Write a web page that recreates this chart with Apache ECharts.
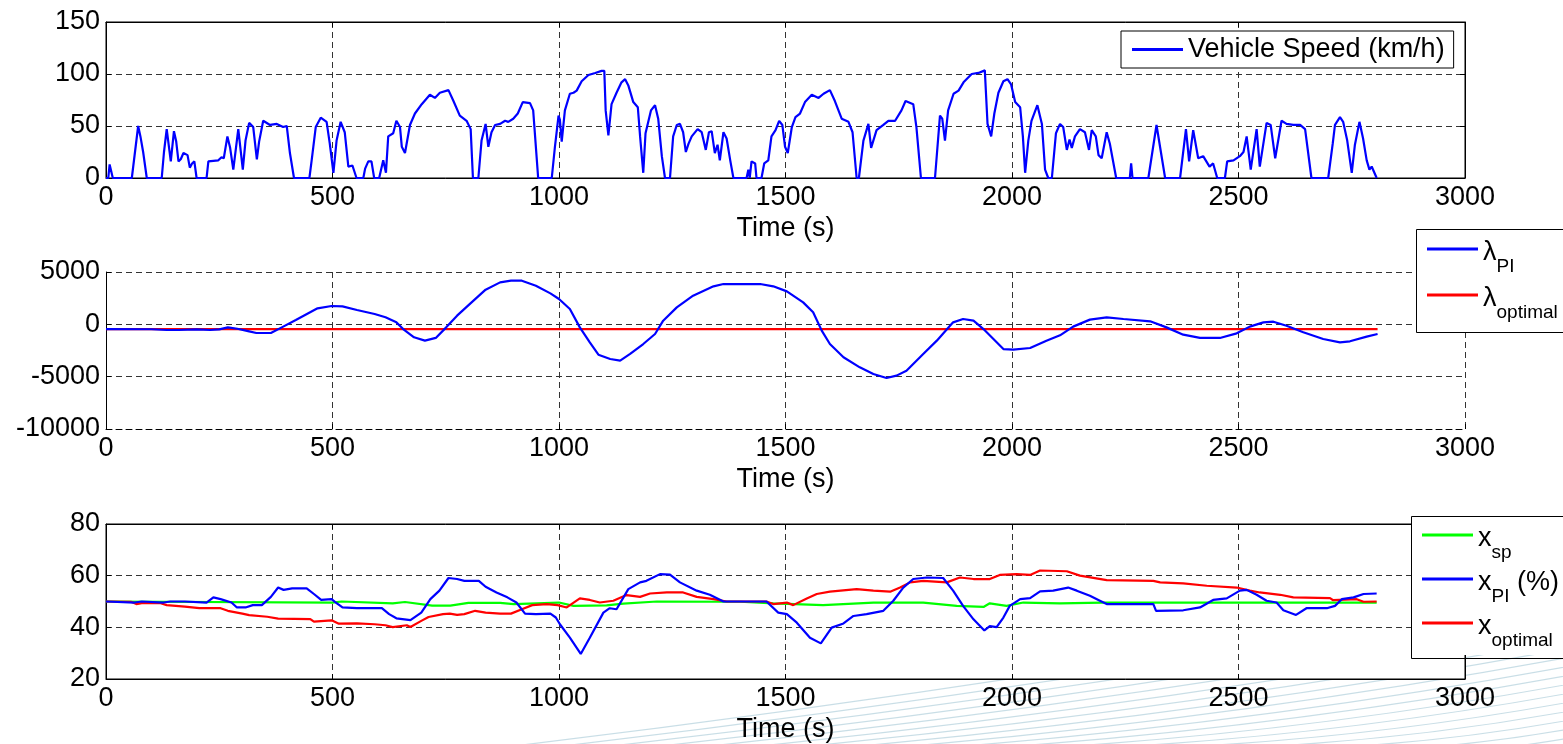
<!DOCTYPE html>
<html>
<head>
<meta charset="utf-8">
<script src="https://cdn.jsdelivr.net/npm/echarts@6/dist/echarts.min.js"></script>
<style>
html, body {margin: 0; padding: 0; background: #fff;}
#main {width: 1563px; height: 744px;}
</style>
</head>
<body>
<div id="main"></div>
<script>
// time axis, shared by the three panels
var timeRange = [0, 3000, 500];

// panel 1: vehicle speed (km/h), [time, value]
var speedRange = [0, 150, 50];
var speedData = [
    [0,0],[5,0],[8,13],[12,13],[15,0],[57,0],[64,25],[71,50],[76,40],[82,25],[90,0],
    [123,0],[128,25],[134,47],[143,16],[150,45],[155,35],[160,16],[165,18],[171,24],[180,22],
    [185,10],[190,14],[195,16],[200,0],[222,0],[226,16],[248,17],[255,20],[260,19],[268,40],
    [274,29],[281,8],[292,47],[302,8],[308,36],[316,53],[325,49],[333,18],[338,35],[347,55],
    [362,51],[377,52],[391,49],[399,50],[406,24],[415,0],[449,0],[454,17],[463,49],[474,58],
    [487,54],[494,33],[502,5],[509,36],[518,54],[527,44],[535,11],[544,12],[553,0],[568,0],
    [572,9],[579,16],[586,16],[592,0],[603,0],[612,17],[618,5],[623,40],[634,43],[641,55],
    [649,49],[653,30],[660,24],[671,51],[682,62],[697,71],[715,80],[726,77],[737,82],[756,84.5],
    [767,74],[781,60],[796,55],[805,47],[810,0],[822,0],[829,36],[838,52],[844,30],[851,44],
    [859,51],[870,52],[881,55],[888,54],[899,57],[909,62],[920,73],[936,72],[943,65],[954,0],
    [984,0],[991,30],[999,60],[1002,56],[1006,35],[1013,65],[1024,81],[1032,82],[1039,84],
    [1050,93],[1065,99],[1080,101],[1094,103],[1100,103],[1103,65],[1109,41],[1116,71],[1127,82],
    [1138,92],[1146,95],[1153,89],[1164,73],[1174,68],[1179,40],[1186,5],[1191,43],[1203,65],
    [1212,70],[1219,57],[1227,21],[1234,0],[1245,0],[1252,40],[1260,51],[1267,52],[1274,44],
    [1280,25],[1286,33],[1293,40],[1306,47],[1315,44],[1324,27],[1331,44],[1337,45],[1344,24],
    [1350,32],[1355,17],[1363,44],[1370,38],[1378,17],[1385,0],[1414,0],[1418,8],[1421,0],
    [1425,16],[1433,14],[1436,0],[1447,0],[1453,14],[1462,17],[1469,40],[1478,46],[1486,55],
    [1493,51],[1499,30],[1505,24],[1514,49],[1522,58.5],[1532,62],[1543,73],[1558,80],[1573,77],
    [1584,81],[1598,84.5],[1609,74],[1624,57],[1639,54],[1648,44],[1657,0],[1662,0],[1672,36],
    [1683,52],[1689,29],[1701,46],[1716,51],[1727,55],[1742,55],[1756,65],[1765,74],[1782,71],
    [1789,49],[1799,0],[1830,0],[1841,60],[1846,57],[1852,36],[1859,65],[1871,81],[1882,84],
    [1893,92],[1911,100],[1926,101],[1940,103.5],[1946,52],[1954,40],[1961,62],[1970,82],
    [1981,93],[1990,95],[1998,90],[2007,73],[2018,68],[2024,40],[2029,5],[2036,36],[2043,55],
    [2056,70],[2066,52],[2073,8],[2080,0],[2088,0],[2097,43],[2106,52],[2113,49],[2121,27],
    [2127,37],[2132,29],[2139,40],[2150,47],[2161,44],[2170,27],[2176,46],[2185,40],[2191,22],
    [2198,19],[2209,44],[2216,33],[2230,0],[2260,0],[2263,14],[2266,0],[2301,0],[2319,51],
    [2338,0],[2371,0],[2384,47],[2391,16],[2400,46],[2411,19],[2422,21],[2436,11],[2444,14],
    [2453,0],[2470,0],[2475,16],[2489,17],[2503,21],[2511,25],[2518,40],[2527,8],[2540,47],
    [2547,11],[2562,53],[2571,51],[2581,19],[2595,55],[2606,52],[2621,51],[2636,51],[2647,47],
    [2661,0],[2698,0],[2708,33],[2713,51],[2724,58.5],[2731,54],[2740,36],[2750,5],[2757,32],
    [2767,54],[2775,38],[2783,17],[2789,8],[2794,11],[2805,0]
];

// panel 2: co-state lambda
var lambdaRange = [-10000, 5000, 5000];
var lambdaPI = [
    [0,-450],[100,-470],[134,-540],[160,-540],[200,-480],[230,-540],[250,-480],[269,-290],
    [290,-420],[316,-670],[332,-830],[364,-830],[388,-290],[419,410],[467,1530],[498,1750],
    [522,1720],[554,1370],[593,990],[617,670],[641,190],[656,-450],[680,-1240],[704,-1560],
    [728,-1300],[751,-290],[775,830],[807,2100],[838,3310],[870,4010],[894,4170],[918,4170],
    [949,3690],[981,2960],[1000,2420],[1024,1470],[1046,-290],[1068,-1720],[1087,-2900],
    [1113,-3310],[1135,-3470],[1157,-2830],[1186,-1880],[1212,-920],[1230,350],[1260,1620],
    [1296,2740],[1341,3630],[1363,3850],[1444,3850],[1473,3630],[1503,3150],[1539,2100],
    [1561,1150],[1580,-600],[1598,-1880],[1628,-3150],[1664,-4110],[1694,-4750],[1723,-5130],
    [1745,-4900],[1767,-4430],[1804,-2830],[1834,-1560],[1870,190],[1892,510],[1915,350],
    [1937,-450],[1959,-1400],[1981,-2360],[2003,-2420],[2040,-2260],[2076,-1560],[2106,-1050],
    [2135,-220],[2172,450],[2209,670],[2246,510],[2305,290],[2341,-290],[2378,-990],[2415,-1300],
    [2459,-1300],[2496,-860],[2525,-220],[2555,190],[2577,250],[2606,-130],[2643,-760],
    [2687,-1400],[2724,-1720],[2746,-1620],[2783,-1180],[2807,-920]
];
var lambdaOptimal = [[0,-450],[2807,-450]];

// panel 3: state of charge (%)
var socRange = [20, 80, 20];
var xSp = [
    [0,50],[500,49.6],[520,50],[633,49.3],[660,49.8],[720,48.4],[760,48.4],[800,49.5],[870,49.5],
    [900,49],[1000,49.6],[1032,48.3],[1105,48.5],[1142,49.2],[1216,50],[1400,49.9],[1473,49.3],
    [1583,48.6],[1694,49.6],[1804,49.6],[1878,48.3],[1937,47.9],[1951,49.3],[1988,48.3],
    [2025,49.6],[2106,49.3],[2200,49.6],[2805,49.6]
];
var xPI = [
    [0,50],[63,49.6],[79,50],[127,49.6],[142,50],[174,50],[222,49.6],[237,51.6],[253,50.9],
    [277,49.6],[289,47.7],[308,47.7],[324,48.6],[344,48.6],[364,51.8],[380,55.4],[392,54.5],
    [411,55.1],[443,55.1],[459,52.9],[475,50.6],[498,50.9],[506,49.8],[522,47.7],[554,47.4],
    [609,47.4],[625,45.1],[641,43.5],[672,42.8],[696,45.7],[716,50.9],[736,54.2],[756,59.1],
    [775,58.7],[791,58],[823,58],[838,55.7],[862,53.5],[886,51.6],[906,49.6],[925,45.3],
    [949,45.1],[981,45.3],[993,43.8],[1002,41.2],[1024,36],[1048,29.7],[1068,36],[1098,45.7],
    [1112,47.4],[1127,47],[1153,54.8],[1179,57.4],[1193,58],[1223,60.6],[1245,60.4],[1267,57.4],
    [1304,54.2],[1333,52.6],[1363,50],[1458,50],[1484,45.7],[1503,45.1],[1525,41.8],[1554,36],
    [1578,33.8],[1602,39.9],[1628,41.5],[1650,44.4],[1679,45.1],[1716,46.4],[1738,50.3],
    [1760,55.4],[1782,58.7],[1812,59.3],[1848,59.1],[1870,54.2],[1892,48.3],[1915,43.1],
    [1939,38.8],[1951,40.5],[1966,40.1],[1981,43.8],[1995,48.3],[2018,50.9],[2040,51.3],
    [2062,53.9],[2091,54.2],[2124,55.4],[2143,54.2],[2172,52.2],[2194,50.3],[2209,49],
    [2312,49],[2318,46.4],[2378,46.6],[2415,47.7],[2444,50.6],[2474,51.2],[2503,54.2],
    [2518,54.5],[2540,52.6],[2562,50.3],[2584,49.6],[2599,46.6],[2627,44.8],[2650,47.4],
    [2695,47.4],[2713,48.3],[2728,50.9],[2754,51.6],[2776,52.9],[2805,53.1]
];
var xOptimal = [
    [0,50],[55,49.9],[67,49],[79,49.4],[119,49.4],[134,48.6],[174,48],[206,47.4],[253,47.4],
    [269,46.4],[301,45.3],[316,44.7],[356,44.1],[380,43.4],[451,43.2],[459,42.2],[498,42.7],
    [514,41.4],[554,41.5],[593,41.2],[617,40.8],[633,40.1],[664,40.8],[672,40.1],[696,42.5],
    [712,44],[744,45.1],[759,45.3],[775,44.8],[791,45.1],[815,46.4],[838,45.7],[870,45.3],
    [894,45.3],[918,47],[941,48.6],[973,49],[997,48.6],[1017,47.7],[1046,51.2],[1068,50.6],
    [1090,49.6],[1120,50.3],[1149,52.5],[1179,51.8],[1201,53.1],[1238,53.5],[1274,53.5],
    [1304,51.8],[1341,50.9],[1370,50],[1458,50],[1473,49],[1503,49.6],[1517,48.6],[1547,51.2],
    [1569,52.9],[1598,53.8],[1657,54.8],[1694,54.2],[1731,53.8],[1753,55.4],[1775,57.4],
    [1804,58],[1856,57.4],[1885,59.3],[1915,58.7],[1951,58.7],[1973,60.3],[2010,60.6],
    [2040,60.3],[2062,62],[2121,61.7],[2150,60],[2209,58.3],[2312,58],[2327,57.4],[2378,57],
    [2430,56.1],[2496,55.4],[2525,54.2],[2547,53.5],[2592,52.6],[2621,51.6],[2702,51.3],
    [2709,50.5],[2761,50.9],[2776,49.9],[2805,50]
];

var FONT = '"Liberation Sans", Arial, sans-serif';
var GRID_DASH = [6, 4];

// plot boxes, in pixels
var boxes = [
    {top: 22, height: 156},
    {top: 272, height: 157},
    {top: 524, height: 155}
];
var ranges = [speedRange, lambdaRange, socRange];

function labelStyle() {
    return {fontSize: 27, color: '#000', fontFamily: FONT};
}

function plainNumber(v) {
    return String(v);
}

function buildGrids() {
    return boxes.map(function (b, i) {
        return {
            left: 106, width: 1359, top: b.top, height: b.height,
            show: true, backgroundColor: '#fff',
            borderColor: '#000', borderWidth: i === 1 ? 0 : 1,
            outerBoundsMode: 'none', containLabel: false
        };
    });
}

function buildXAxes() {
    var list = [];
    boxes.forEach(function (b, i) {
        var lab = labelStyle();
        lab.margin = 6;
        lab.formatter = plainNumber;
        list.push({
            gridIndex: i, type: 'value', position: 'bottom',
            min: timeRange[0], max: timeRange[1], interval: timeRange[2],
            name: 'Time (s)', nameLocation: 'middle', nameGap: 37, nameMoveOverlap: false,
            nameTextStyle: labelStyle(),
            axisLine: {show: true, onZero: false, lineStyle: {color: '#000', width: 1, type: i === 1 ? GRID_DASH : 'solid'}},
            axisTick: {show: true, inside: true, length: 5, lineStyle: {color: '#000'}},
            axisLabel: lab,
            splitLine: {show: true, lineStyle: {color: '#333', width: 1, type: GRID_DASH}}
        });
    });
    // tick marks along the top edge of the boxed panels
    [0, 2].forEach(function (i) {
        list.push({
            gridIndex: i, type: 'value', position: 'top',
            min: timeRange[0], max: timeRange[1], interval: timeRange[2],
            axisLine: {show: true, onZero: false, lineStyle: {color: '#000'}},
            axisTick: {show: true, inside: true, length: 5, lineStyle: {color: '#000'}},
            axisLabel: {show: false}, splitLine: {show: false}
        });
    });
    return list;
}

function buildYAxes() {
    var list = [];
    ranges.forEach(function (r, i) {
        var lab = labelStyle();
        lab.margin = 6;
        lab.formatter = plainNumber;
        list.push({
            gridIndex: i, type: 'value', position: 'left',
            min: r[0], max: r[1], interval: r[2],
            axisLine: {show: true, onZero: false, lineStyle: {color: '#000', width: 1}},
            axisTick: {show: true, inside: true, length: 5, lineStyle: {color: '#000'}},
            axisLabel: lab,
            splitLine: {show: true, lineStyle: {color: '#333', width: 1, type: GRID_DASH}}
        });
    });
    [0, 2].forEach(function (i) {
        var r = ranges[i];
        list.push({
            gridIndex: i, type: 'value', position: 'right',
            min: r[0], max: r[1], interval: r[2],
            axisLine: {show: true, onZero: false, lineStyle: {color: '#000'}},
            axisTick: {show: true, inside: true, length: 5, lineStyle: {color: '#000'}},
            axisLabel: {show: false}, splitLine: {show: false}
        });
    });
    return list;
}

function lineSeries(name, grid, data, color) {
    return {
        name: name, type: 'line', xAxisIndex: grid, yAxisIndex: grid,
        data: data, color: color, symbol: 'none', showSymbol: false,
        lineStyle: {color: color, width: 2.2}, itemStyle: {color: color},
        animation: false, z: 3
    };
}

// rich text for the subscripted legend names
var legendRich = {
    m: {fontSize: 27, fontFamily: FONT, color: '#000', lineHeight: 30, padding: [5, 0, 0, 0], verticalAlign: 'top'},
    s: {fontSize: 19, fontFamily: FONT, color: '#000', lineHeight: 20, padding: [23, 0, 0, 0], verticalAlign: 'top'}
};
var legendLabels = {
    lamPI: '{m|λ}{s|PI}',
    lamOpt: '{m|λ}{s|optimal}',
    xsp: '{m|x}{s|sp}',
    xpi: '{m|x}{s|PI}{m| (%)}',
    xopt: '{m|x}{s|optimal}'
};

function legendBox(names, left, top, padding, gap, rich) {
    var ts = labelStyle();
    if (rich) ts.rich = legendRich;
    return {
        data: names, orient: 'vertical', left: left, top: top,
        padding: padding, itemGap: gap, itemWidth: 51, itemHeight: 3, icon: 'rect',
        backgroundColor: '#fff', borderColor: '#000', borderWidth: rich ? 0 : 1, borderRadius: 0,
        selectedMode: false, textStyle: ts,
        formatter: rich ? function (n) { return legendLabels[n]; } : null
    };
}

// the two right-hand legend frames run past the page edge
function legendFrame(x, y, h) {
    return {
        type: 'rect', z: 20, silent: true,
        shape: {x: x + 0.5, y: y + 0.5, width: 200, height: h},
        style: {stroke: '#000', lineWidth: 1, fill: null}
    };
}

// faint swoosh behind the lower right corner
function watermark() {
    var out = [];
    for (var i = 0; i < 20; i++) {
        var x1 = 480 + i * 48;
        var y2 = 585 + i * 9;
        out.push({
            type: 'bezierCurve', z: -10, silent: true,
            shape: {x1: x1, y1: 750, x2: 1570, y2: y2, cpx1: (x1 + 1570) / 2, cpy1: (750 + y2) / 2 + 18},
            style: {stroke: '#bfd8e2', lineWidth: 1.2, fill: null, opacity: 0.85}
        });
    }
    return out;
}

var option = {
    backgroundColor: '#fff',
    animation: false,
    graphic: watermark().concat([legendFrame(1416, 229, 103), legendFrame(1411, 516, 142)]),
    grid: buildGrids(),
    xAxis: buildXAxes(),
    yAxis: buildYAxes(),
    legend: [
        legendBox(['Vehicle Speed (km/h)'], 1121, 31, [5, 9, 5, 11], 0, false),
        legendBox(['lamPI', 'lamOpt'], 1416, 229, [5, 80, 8, 11], 4, true),
        legendBox(['xsp', 'xpi', 'xopt'], 1411, 516, [4, 40, 5, 11], 2, true)
    ],
    series: [
        lineSeries('Vehicle Speed (km/h)', 0, speedData, '#0000ff'),
        lineSeries('lamOpt', 1, lambdaOptimal, '#ff0000'),
        lineSeries('lamPI', 1, lambdaPI, '#0000ff'),
        lineSeries('xsp', 2, xSp, '#00ff00'),
        lineSeries('xopt', 2, xOptimal, '#ff0000'),
        lineSeries('xpi', 2, xPI, '#0000ff')
    ]
};

var chart = echarts.init(document.getElementById('main'), null, {renderer: 'canvas'});
chart.setOption(option);
</script>
</body>
</html>
